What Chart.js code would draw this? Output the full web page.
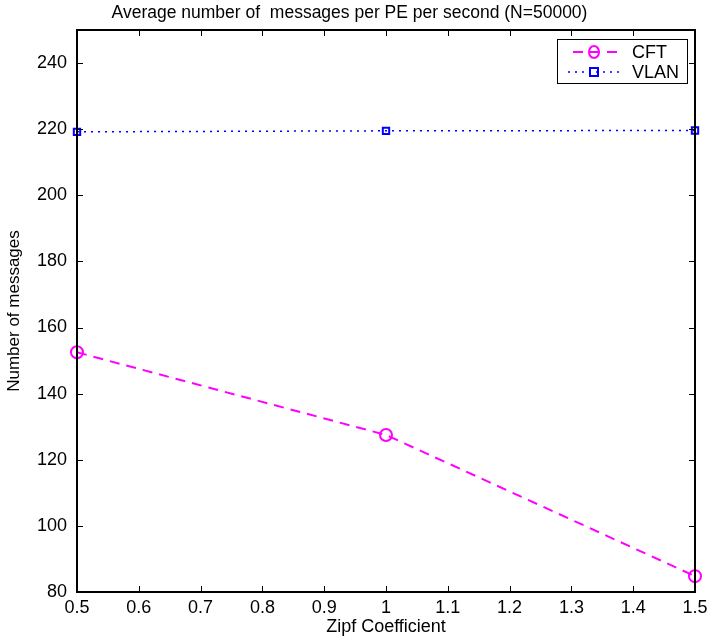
<!DOCTYPE html>
<html>
<head>
<meta charset="utf-8">
<script src="https://cdn.jsdelivr.net/npm/chart.js@4/dist/chart.umd.min.js"></script>
<style>
  html,body{margin:0;padding:0;background:#fff;}
  #wrap{width:708px;height:639px;position:relative;}
</style>
</head>
<body>
<div id="wrap"><canvas id="c" width="708" height="639"></canvas></div>
<script>
// data
const zipf = [0.5, 1, 1.5];
const cft  = [152.5, 127.5, 84.8];
const vlan = [219.2, 219.5, 219.6];
const xTicks = [0.5,0.6,0.7,0.8,0.9,1,1.1,1.2,1.3,1.4,1.5];
const yTicks = [80,100,120,140,160,180,200,220,240];

const FONT = 'Liberation Sans, Arial, Helvetica, sans-serif';
const MAGENTA = '#ff00ff', BLUE = '#0000ff';

// MATLAB style: box round the axes, ticks pointing inwards on all sides
const boxTicks = {
  id:'boxTicks',
  afterDatasetsDraw(chart){
    const {ctx, chartArea:a, scales:{x,y}} = chart;
    const L = 6;
    ctx.save();
    ctx.strokeStyle = '#000';
    ctx.lineWidth = 1;
    xTicks.forEach(v=>{
      const px = Math.round(x.getPixelForValue(v))+0.5;
      ctx.beginPath();
      ctx.moveTo(px,a.bottom); ctx.lineTo(px,a.bottom-L);
      ctx.moveTo(px,a.top); ctx.lineTo(px,a.top+L);
      ctx.stroke();
    });
    yTicks.forEach(v=>{
      const py = Math.round(y.getPixelForValue(v))+0.5;
      ctx.beginPath();
      ctx.moveTo(a.left,py); ctx.lineTo(a.left+L,py);
      ctx.moveTo(a.right,py); ctx.lineTo(a.right-L,py);
      ctx.stroke();
    });
    ctx.lineWidth = 2;
    ctx.strokeRect(a.left, a.top, a.right-a.left, a.bottom-a.top);
    ctx.restore();
  }
};

// legend box in the top right corner
const lineLegend = {
  id:'lineLegend',
  afterDraw(chart){
    const {ctx, chartArea:a} = chart;
    const w = 130, h = 44;
    const bx = a.right - 8 - w, by = a.top + 9;
    ctx.save();
    ctx.fillStyle = '#fff';
    ctx.fillRect(bx,by,w,h);
    ctx.strokeStyle = '#000'; ctx.lineWidth = 1;
    ctx.strokeRect(bx+0.5,by+0.5,w,h);
    const items = [
      {label:'CFT', color:MAGENTA, dash:[10,7], lw:2, style:'circle', x0:16, x1:63},
      {label:'VLAN', color:BLUE, dash:[2,5], lw:1.5, style:'rect', x0:11, x1:65}
    ];
    items.forEach((it,i)=>{
      const cy = by + 13 + i*20;
      ctx.strokeStyle = it.color; ctx.lineWidth = it.lw;
      ctx.setLineDash(it.dash);
      ctx.beginPath(); ctx.moveTo(bx+it.x0,cy); ctx.lineTo(bx+it.x1,cy); ctx.stroke();
      ctx.setLineDash([]);
      ctx.lineWidth = 2;
      const mx = bx+37;
      ctx.beginPath();
      if(it.style==='circle'){ ctx.ellipse(mx,cy,5,6,0,0,Math.PI*2); }
      else { ctx.rect(mx-4,cy-4,8,8); }
      ctx.stroke();
      ctx.fillStyle = '#000';
      ctx.font = '18px '+FONT;
      ctx.textBaseline = 'middle';
      ctx.fillText(it.label, bx+75, cy+1);
    });
    ctx.restore();
  }
};

new Chart(document.getElementById('c').getContext('2d'),{
  type:'line',
  data:{
    datasets:[
      {label:'CFT', data:zipf.map((v,i)=>({x:v,y:cft[i]})),
       borderColor:MAGENTA, backgroundColor:'rgba(0,0,0,0)', borderWidth:2, borderDash:[10,7],
       pointStyle:'circle', pointRadius:6, pointBorderWidth:2, pointBorderColor:MAGENTA,
       pointBackgroundColor:'rgba(0,0,0,0)', tension:0, clip:false},
      {label:'VLAN', data:zipf.map((v,i)=>({x:v,y:vlan[i]})),
       borderColor:BLUE, backgroundColor:'rgba(0,0,0,0)', borderWidth:1.5, borderDash:[2,5],
       pointStyle:'rect', pointRadius:4.5, pointBorderWidth:2, pointBorderColor:BLUE,
       pointBackgroundColor:'rgba(0,0,0,0)', tension:0, clip:false}
    ]
  },
  options:{
    responsive:false, animation:false,
    layout:{padding:{top:0,right:13,left:4,bottom:1}},
    plugins:{
      legend:{display:false}, tooltip:{enabled:false},
      title:{display:true, text:'Average number of  messages per PE per second (N=50000)',
        color:'#000', font:{family:FONT,size:17.5,weight:'normal'}, padding:{top:3,bottom:6}}
    },
    scales:{
      x:{type:'linear', min:0.5, max:1.5,
        afterBuildTicks:s=>{ s.ticks = xTicks.map(v=>({value:v})); },
        afterFit:s=>{ s.height = 46; s.paddingLeft = 0; s.paddingRight = 0; },
        grid:{display:false, drawTicks:false}, border:{display:false},
        ticks:{color:'#000', padding:5, font:{family:FONT,size:18}, maxRotation:0,
          callback:v=>String(Math.round(v*10)/10)},
        title:{display:true, text:'Zipf Coefficient', color:'#000', font:{family:FONT,size:18}, padding:{top:0,bottom:0}}
      },
      y:{type:'linear', min:80, max:250,
        afterBuildTicks:s=>{ s.ticks = yTicks.map(v=>({value:v})); },
        afterFit:s=>{ s.width = 73; },
        grid:{display:false, drawTicks:false}, border:{display:false},
        ticks:{color:'#000', padding:10, font:{family:FONT,size:18}},
        title:{display:true, text:'Number of messages', color:'#000', font:{family:FONT,size:17}, padding:{top:0,bottom:0}}
      }
    }
  },
  plugins:[boxTicks, lineLegend]
});
</script>
</body>
</html>
